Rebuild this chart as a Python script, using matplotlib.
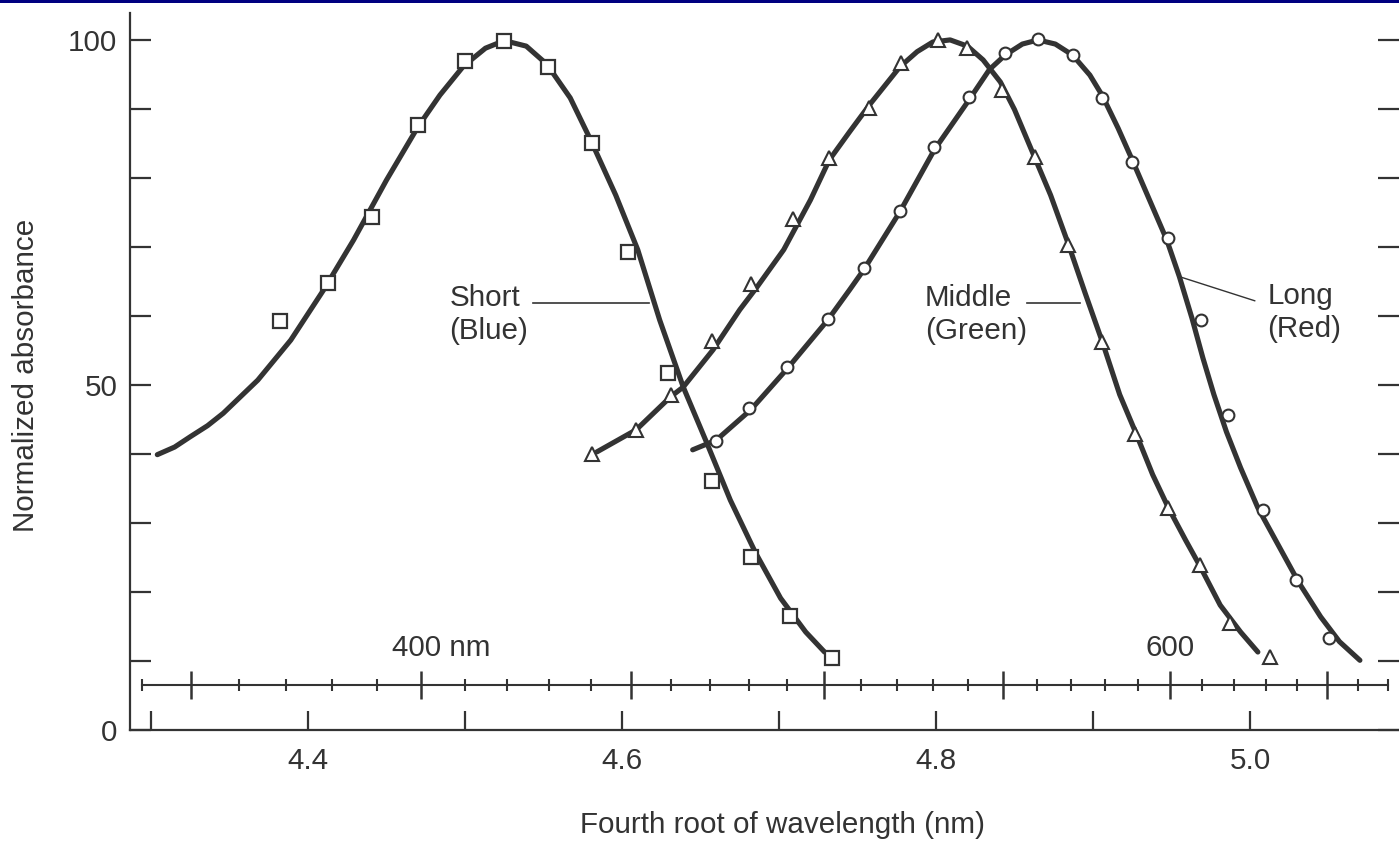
import numpy as np
import matplotlib.pyplot as plt

plt.rcParams['font.family'] = ['Liberation Sans', 'DejaVu Sans']

# Short (blue) cone: measured points and fitted curve
short_x = [4.382, 4.413, 4.441, 4.470, 4.500, 4.525, 4.553, 4.581, 4.604,
           4.629, 4.657, 4.682, 4.707, 4.734]
short_y = [59.3, 64.8, 74.3, 87.7, 97.0, 99.9, 96.1, 85.1, 69.3,
           51.7, 36.1, 25.1, 16.5, 10.4]
short_fit_x = [4.304, 4.315, 4.325, 4.336, 4.346, 4.368, 4.389, 4.410, 4.429,
               4.450, 4.470, 4.484, 4.499, 4.513, 4.525, 4.539, 4.552, 4.567,
               4.580, 4.596, 4.610, 4.624, 4.639, 4.654, 4.669, 4.685, 4.701,
               4.717, 4.729]
short_fit_y = [39.9, 41.0, 42.5, 44.1, 45.9, 50.7, 56.5, 63.8, 71.0,
               79.7, 87.4, 92.0, 96.2, 98.8, 99.9, 99.1, 96.5, 91.6,
               85.5, 77.5, 69.6, 59.4, 49.7, 41.6, 33.3, 25.7, 19.1,
               14.2, 11.3]

# Middle (green) cone
mid_x = [4.581, 4.609, 4.631, 4.657, 4.682, 4.709, 4.732, 4.757, 4.778, 4.801,
         4.820, 4.842, 4.863, 4.884, 4.906, 4.927, 4.948, 4.968, 4.987, 5.013]
mid_y = [40.0, 43.5, 48.6, 56.4, 64.6, 74.1, 82.9, 90.1, 96.7, 100.0,
         98.8, 92.8, 83.0, 70.3, 56.2, 42.9, 32.2, 23.9, 15.5, 10.6]
mid_fit_x = [4.584, 4.609, 4.631, 4.639, 4.658, 4.675, 4.686, 4.703, 4.720,
             4.732, 4.745, 4.758, 4.777, 4.788, 4.798, 4.809, 4.820, 4.830,
             4.841, 4.850, 4.860, 4.873, 4.884, 4.895, 4.906, 4.917, 4.927,
             4.938, 4.948, 4.959, 4.968, 4.981, 4.994, 5.005]
mid_fit_y = [40.3, 43.5, 48.3, 49.7, 55.1, 60.9, 64.2, 69.6, 76.8,
             82.6, 86.7, 90.7, 96.1, 98.3, 99.7, 100.0, 99.1, 97.1,
             93.9, 89.9, 84.5, 77.5, 70.6, 63.3, 56.2, 48.6, 43.2,
             37.0, 32.2, 27.5, 23.8, 18.1, 14.2, 11.3]

# Long (red) cone
long_x = [4.660, 4.681, 4.705, 4.731, 4.754, 4.777, 4.799, 4.821, 4.844, 4.865,
          4.887, 4.906, 4.925, 4.948, 4.969, 4.986, 5.008, 5.029, 5.050]
long_y = [41.9, 46.7, 52.6, 59.6, 67.0, 75.2, 84.5, 91.7, 98.1, 100.1,
          97.8, 91.6, 82.3, 71.3, 59.4, 45.7, 31.9, 21.7, 13.3]
long_fit_x = [4.645, 4.660, 4.682, 4.705, 4.731, 4.745, 4.754, 4.777, 4.799,
              4.821, 4.834, 4.844, 4.855, 4.865, 4.876, 4.887, 4.898, 4.906,
              4.916, 4.925, 4.936, 4.947, 4.955, 4.963, 4.970, 4.977, 4.985,
              4.994, 5.005, 5.018, 5.031, 5.045, 5.057, 5.070]
long_fit_y = [40.6, 42.0, 46.4, 52.3, 59.4, 63.8, 66.7, 75.1, 84.1,
              91.3, 95.7, 97.8, 99.4, 100.0, 99.4, 97.8, 94.9, 91.9,
              87.2, 82.6, 76.8, 71.0, 65.7, 59.7, 53.9, 48.6, 43.2,
              38.0, 32.2, 26.8, 21.4, 16.4, 12.8, 10.1]

# wavelength scale (nm), drawn on its fourth root
wl_ticks = np.arange(340, 671, 10)
wl_labels = {400: '400 nm', 600: '600'}

ink = '#333333'
fs = 21.3

fig = plt.figure(figsize=(13.99, 8.41), dpi=100)
ax = fig.add_axes([130 / 1399, 1 - 730 / 841, 1 - 130 / 1399, (730 - 13) / 841])

for fx, fy in [(short_fit_x, short_fit_y), (mid_fit_x, mid_fit_y), (long_fit_x, long_fit_y)]:
    ax.plot(fx, fy, color=ink, lw=3.7, solid_capstyle='round',
            solid_joinstyle='round', zorder=2)

ax.plot(short_x, short_y, 's', ms=10.5, mfc='white', mec=ink, mew=1.6, zorder=3)
ax.plot(mid_x, mid_y, '^', ms=9.5, mfc='white', mec=ink, mew=1.5, zorder=3)
ax.plot(long_x, long_y, 'o', ms=8.5, mfc='white', mec=ink, mew=1.5, zorder=3)

# curve names with leader lines
ax.text(4.490, 64.6, 'Short\n(Blue)', fontsize=fs, color=ink, ha='left', va='top')
ax.plot([4.543, 4.617], [61.9, 61.9], color=ink, lw=1.2)
ax.text(4.793, 64.6, 'Middle\n(Green)', fontsize=fs, color=ink, ha='left', va='top')
ax.plot([4.858, 4.892], [61.9, 61.9], color=ink, lw=1.2)
ax.text(5.011, 64.9, 'Long\n(Red)', fontsize=fs, color=ink, ha='left', va='top')
ax.plot([4.955, 5.003], [65.7, 62.2], color=ink, lw=1.0)

# wavelength axis inside the plot
wl_y = 6.5
wl_x = wl_ticks ** 0.25
ax.plot([wl_x[0], wl_x[-1]], [wl_y, wl_y], color=ink, lw=1.5)
major = (wl_ticks % 50 == 0)
ax.plot(wl_x[major], [wl_y] * major.sum(), '|', ms=20, mew=1.8, color=ink)
ax.plot(wl_x[~major], [wl_y] * (~major).sum(), '|', ms=8.5, mew=1.5, color=ink)
ax.annotate(wl_labels[400], xy=(400 ** 0.25, 11.9), xytext=(-21, 0),
            textcoords='offset points', fontsize=fs, color=ink, ha='left', va='center')
ax.annotate(wl_labels[600], xy=(600 ** 0.25, 11.9), xytext=(0, 0),
            textcoords='offset points', fontsize=fs, color=ink, ha='center', va='center')

ax.set_xlim(4.2866, 5.0949)
ax.set_ylim(0, 103.9)
ax.set_xticks([4.4, 4.6, 4.8, 5.0])
ax.set_xticklabels(['4.4', '4.6', '4.8', '5.0'])
ax.set_xticks([4.3, 4.5, 4.7, 4.9], minor=True)
ax.set_yticks([0, 50, 100])
ax.set_yticks([10, 20, 30, 40, 60, 70, 80, 90], minor=True)
ax.tick_params(axis='x', which='both', direction='in', length=14, width=1.6,
               colors=ink, labelsize=fs, pad=12, top=False)
ax.tick_params(axis='y', which='both', direction='in', length=15, width=1.6,
               colors=ink, labelsize=fs, pad=9, right=True)
for s in ['top', 'right']:
    ax.spines[s].set_visible(False)
for s in ['left', 'bottom']:
    ax.spines[s].set_color(ink)
    ax.spines[s].set_linewidth(1.6)

fig.text(26 / 1399, 1 - 375 / 841, 'Normalized absorbance', rotation=90,
         fontsize=fs, color=ink, ha='center', va='center')
fig.text(782 / 1399, 1 - 825 / 841, 'Fourth root of wavelength (nm)',
         fontsize=fs, color=ink, ha='center', va='center')

# navy strip at the top edge
fig.add_artist(plt.Rectangle((0, 1 - 3 / 841), 1, 3 / 841, transform=fig.transFigure,
                             color='#000080', lw=0))

fig.savefig('out.png', dpi=100)
